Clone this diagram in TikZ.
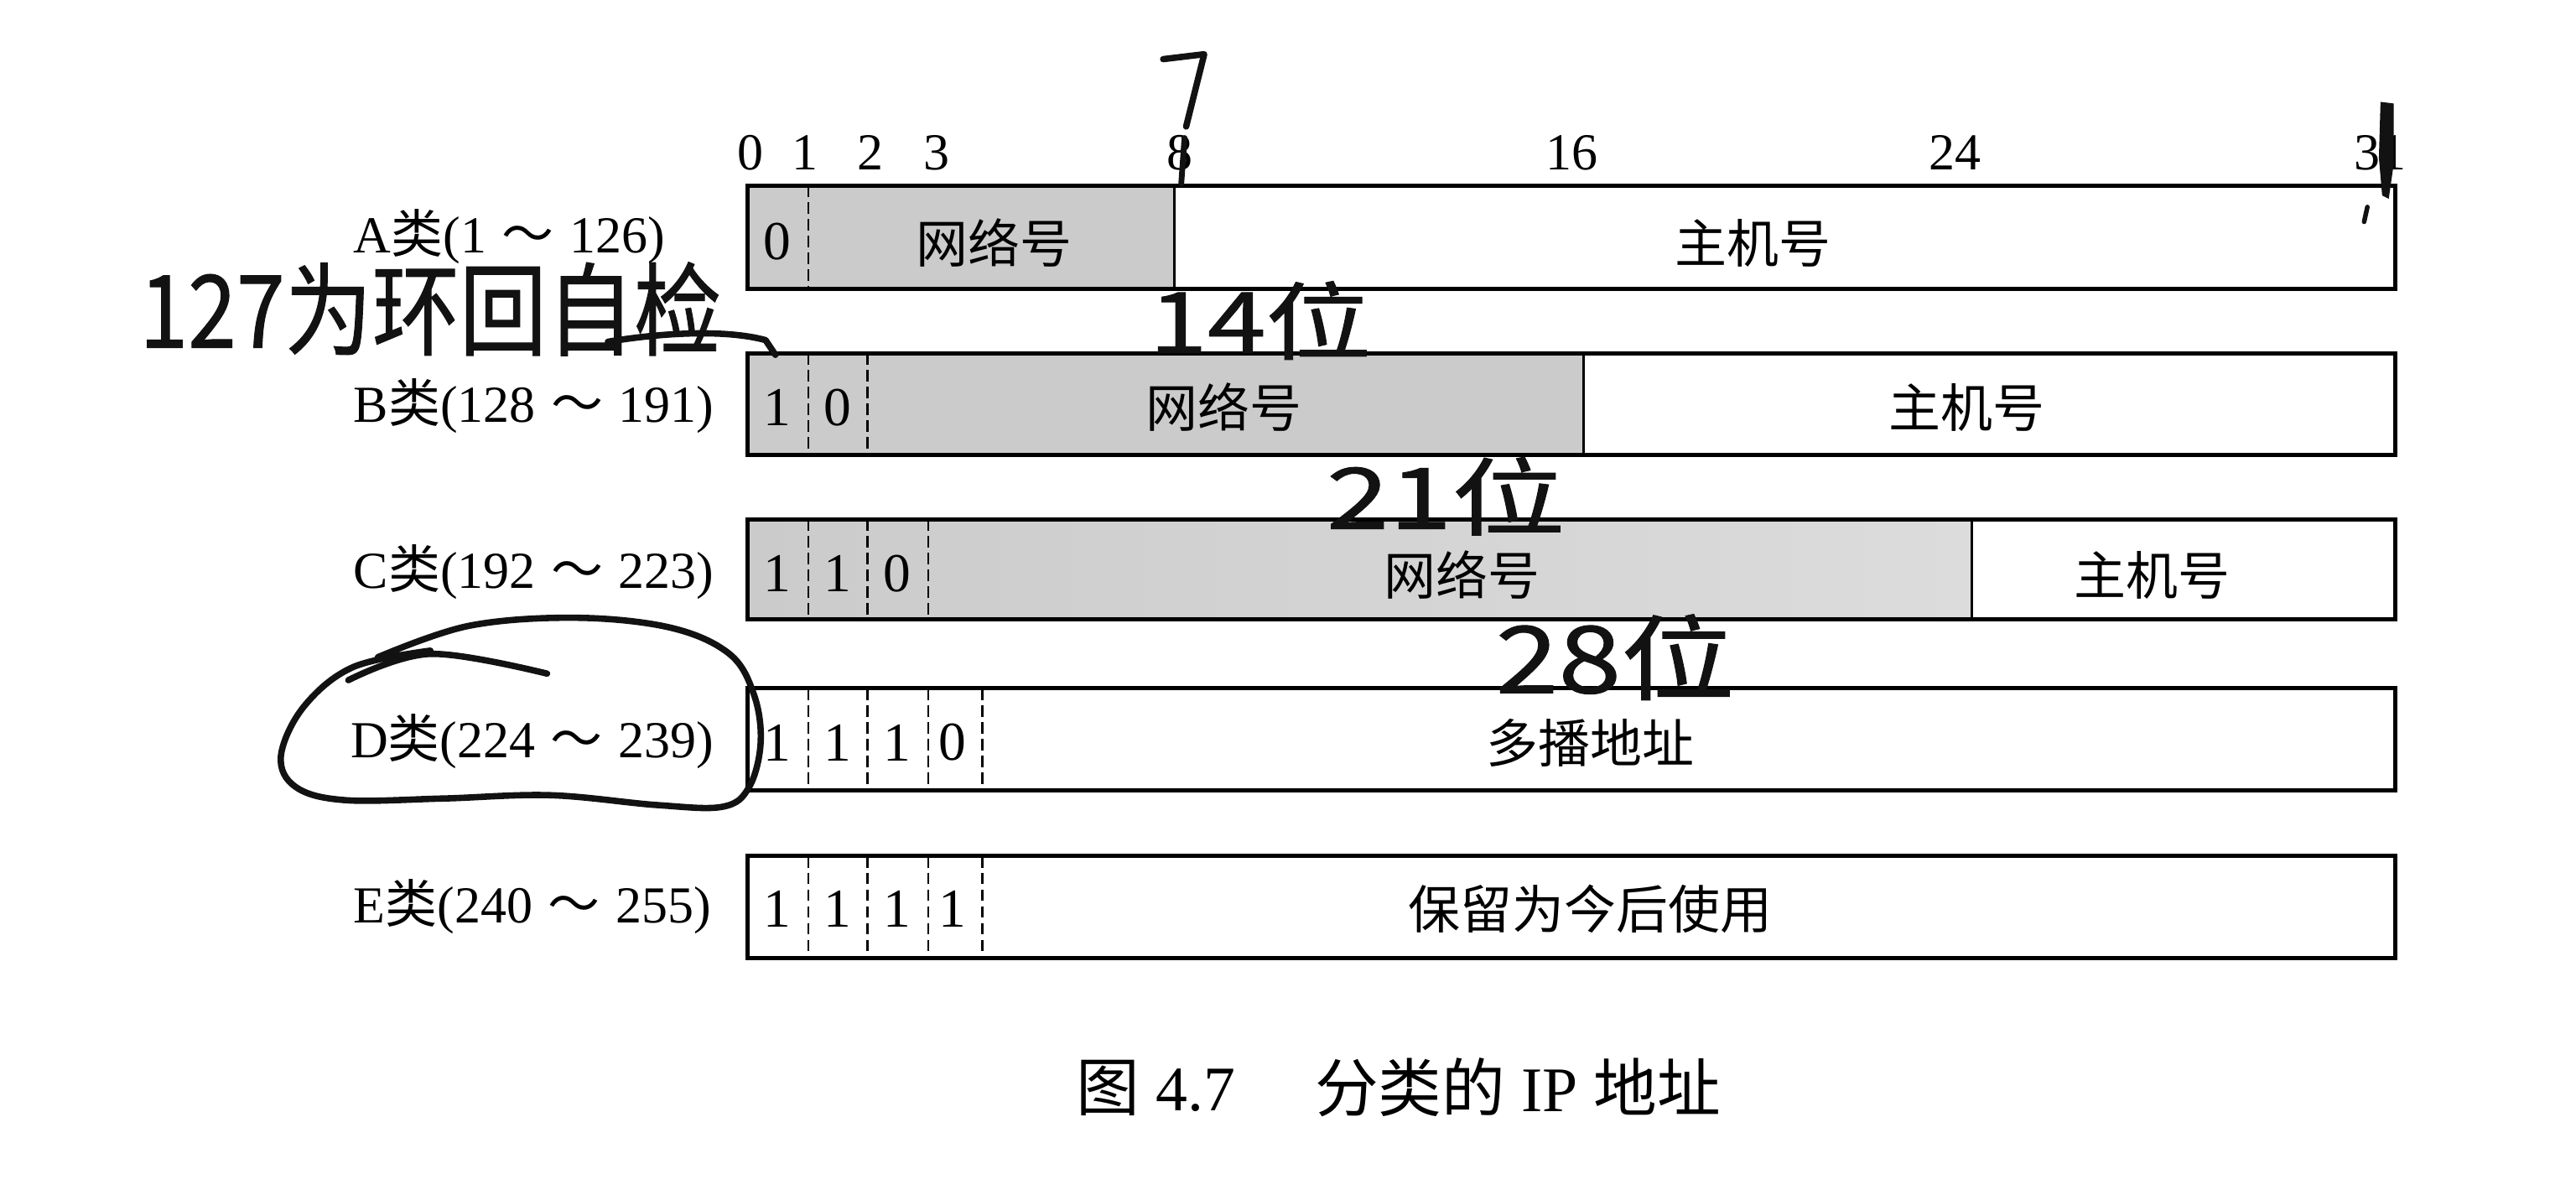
\documentclass[tikz,border=0pt]{standalone}
\usepackage{fontspec}
\setmainfont{Liberation Serif}
\newfontfamily\cjk{Noto Sans CJK SC}
\newfontfamily\hand[FakeBold=0.9]{Noto Sans CJK SC}
\definecolor{netgray}{RGB}{203,203,203}
\definecolor{netgraylt}{RGB}{220,220,220}
\definecolor{ink}{RGB}{18,18,18}
\newcommand\zh[1]{{\cjk #1}}
\newcommand\tld{\hspace{0.3em}\zh{～}\hspace{0.3em}}
\begin{document}
\begin{tikzpicture}[x=0.02cm,y=-0.02cm,
  border/.style={line width=1.5pt},
  sep/.style={line width=0.9pt},
  bitsep/.style={line width=0.7pt,dash pattern=on 4pt off 1.8pt},
  rowlabel/.style={anchor=west,inner sep=0pt,font=\fontsize{18}{20}\selectfont},
  bitnum/.style={inner sep=0pt,font=\fontsize{18}{20}\selectfont},
  bitval/.style={inner sep=0pt,font=\fontsize{19}{20}\selectfont},
  field/.style={inner sep=0pt,font=\cjk\fontsize{18}{20}\selectfont},
  captxt/.style={anchor=west,inner sep=0pt,font=\fontsize{22}{26}\selectfont},
  pen/.style={line width=2.2pt,color=ink,line cap=round,line join=round},
  handtext/.style={inner sep=0pt,text=ink,font=\hand\fontsize{28}{30}\selectfont},
]
\useasboundingbox (0,0) rectangle (1568,727);
\fill[white] (0,0) rectangle (1568,727);

% ---- bit numbers
\node[bitnum] (n0) at (457,93) {0};
\node[bitnum] (n1) at (490,93) {1};
\node[bitnum] (n2) at (530,93) {2};
\node[bitnum] (n3) at (570,93) {3};
\node[bitnum] (n8) at (718,93) {8};
\node[bitnum] (n16) at (957,93) {16};
\node[bitnum] (n24) at (1190,93) {24};
\node[bitnum] (n31) at (1449,93) {31};

% ---- class A
\fill[netgray] (455,113) rectangle (715,176);
\draw[bitsep] (492,113) -- (492,176);
\draw[sep] (715,113) -- (715,176);
\draw[border] (455,113) rectangle (1458,176);
\node[rowlabel] (la) at (215,144) {A\zh{类}(1\tld 126)};
\node[bitval] (a0) at (473,147) {0};
\node[field] (anet) at (605,148) {网络号};
\node[field] (ahost) at (1067,148) {主机号};

% ---- class B
\fill[netgray] (455,215) rectangle (964,277);
\draw[bitsep] (492,215) -- (492,277);
\draw[bitsep] (528,215) -- (528,277);
\draw[sep] (964,215) -- (964,277);
\draw[border] (455,215) rectangle (1458,277);
\node[rowlabel] (lb) at (215,247) {B\zh{类}(128\tld 191)};
\node[bitval] (b0) at (473,248) {1};
\node[bitval] (b1) at (510,248) {0};
\node[field] (bnet) at (745,248) {网络号};
\node[field] (bhost) at (1197,248) {主机号};

% ---- class C
\shade[left color=netgray,right color=netgraylt] (455,316) rectangle (1200,377);
\draw[bitsep] (492,316) -- (492,377);
\draw[bitsep] (528,316) -- (528,377);
\draw[bitsep] (565,316) -- (565,377);
\draw[sep] (1200,316) -- (1200,377);
\draw[border] (455,316) rectangle (1458,377);
\node[rowlabel] (lc) at (215,348) {C\zh{类}(192\tld 223)};
\node[bitval] (c0) at (473,349) {1};
\node[bitval] (c1) at (510,349) {1};
\node[bitval] (c2) at (546,349) {0};
\node[field] (cnet) at (890,350) {网络号};
\node[field] (chost) at (1310,350) {主机号};

% ---- class D
\draw[bitsep] (492,419) -- (492,481);
\draw[bitsep] (528,419) -- (528,481);
\draw[bitsep] (565,419) -- (565,481);
\draw[bitsep] (598,419) -- (598,481);
\draw[border] (455,419) rectangle (1458,481);
\node[rowlabel] (ld) at (213,451) {D\zh{类}(224\tld 239)};
\node[bitval] (d0) at (473,452) {1};
\node[bitval] (d1) at (510,452) {1};
\node[bitval] (d2) at (546,452) {1};
\node[bitval] (d3) at (580,452) {0};
\node[field] (dmc) at (968,452) {多播地址};

% ---- class E
\draw[bitsep] (492,521) -- (492,583);
\draw[bitsep] (528,521) -- (528,583);
\draw[bitsep] (565,521) -- (565,583);
\draw[bitsep] (598,521) -- (598,583);
\draw[border] (455,521) rectangle (1458,583);
\node[rowlabel] (le) at (215,552) {E\zh{类}(240\tld 255)};
\node[bitval] (e0) at (473,553) {1};
\node[bitval] (e1) at (510,553) {1};
\node[bitval] (e2) at (546,553) {1};
\node[bitval] (e3) at (580,553) {1};
\node[field] (eres) at (968,553) {保留为今后使用};

% ---- caption
\node[captxt] (cap1) at (655,662) {\zh{图} 4.7};
\node[captxt] (cap2) at (800,662) {\zh{分类的} IP \zh{地址}};

% ---- handwritten annotations
\node[handtext,xscale=1.08,yscale=1.25] (h127) at (262,188) {127为环回自检};
\draw[pen] (370,208) .. controls (400,203) and (440,200) .. (466,207) -- (472,216);
\node[handtext,xscale=1.3,yscale=1.05] (h14) at (767,195) {14位};
\node[handtext,xscale=1.4,yscale=1.05] (h21) at (880,302) {21位};
\node[handtext,xscale=1.4,yscale=1.15] (h28) at (983,400) {28位};
% the 7 above bit 8
\draw[pen] (708,36) -- (733,33) -- (722,77);
\draw[pen,line width=2pt] (721,84) -- (719,112);
% mark at 31
\fill[ink] (1449,62) -- (1457,63) -- (1457,100) -- (1454,121) -- (1450,119) -- (1448,96) -- cycle;
\draw[pen,line width=1.6pt] (1441,126) -- (1439,135);
% loop round class D label
\draw[pen] plot[smooth,tension=0.6] coordinates {(212,414) (262,398) (333,410)};
\draw[pen] plot[smooth,tension=0.6] coordinates {(262,396) (215,406) (185,430) (171,460) (180,479) (210,487) (270,486) (335,484) (400,490) (440,491) (456,479) (463,452) (459,423) (444,398) (408,382) (350,376) (285,381) (230,400)};
\end{tikzpicture}
\end{document}
